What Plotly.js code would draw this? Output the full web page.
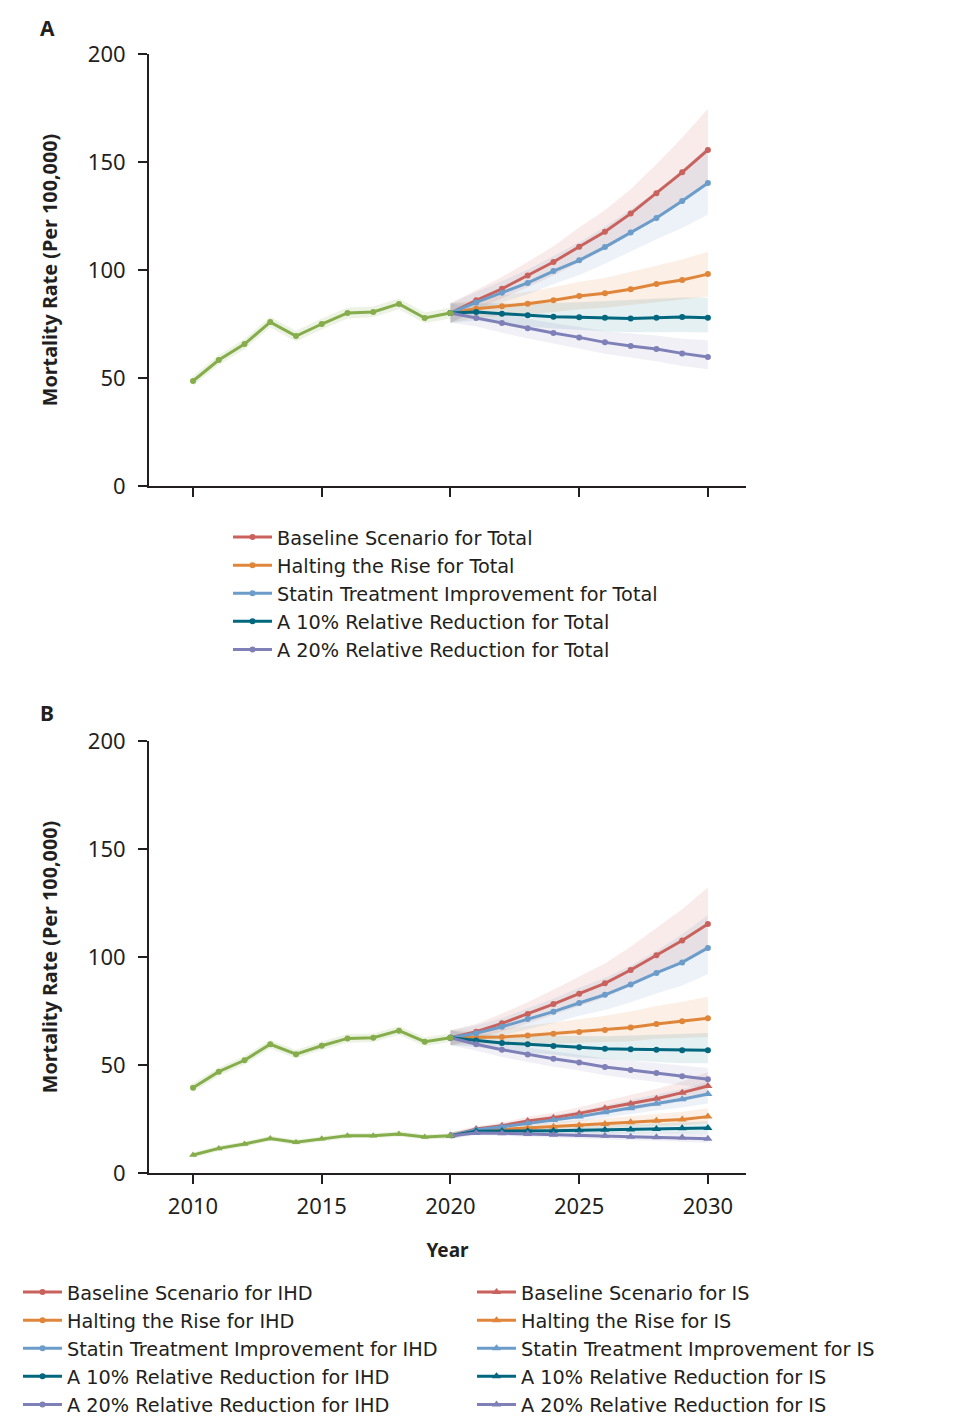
<!DOCTYPE html>
<html>
<head>
<meta charset="utf-8">
<script src="https://cdn.plot.ly/plotly-3.0.1.min.js"></script>
<style>html,body{margin:0;padding:0;background:#fff;}#chart{width:956px;height:1428px;}</style>
</head>
<body>
<div id="chart"></div>
<script>
// ---------- DATA ----------
const yearsHist = [2010, 2011, 2012, 2013, 2014, 2015, 2016, 2017, 2018, 2019, 2020];
const yearsProj = [2020, 2021, 2022, 2023, 2024, 2025, 2026, 2027, 2028, 2029, 2030];
const scenarioNames = ["Baseline Scenario", "Halting the Rise", "Statin Treatment Improvement", "A 10% Relative Reduction", "A 20% Relative Reduction"];
const yTicks = [0, 50, 100, 150, 200];
const xTicks = [2010, 2015, 2020, 2025, 2030];

// Panel A: Total
const totalHist = [48.6, 58.3, 65.7, 75.9, 69.4, 75.0, 80.1, 80.6, 84.3, 77.8, 80.1];
const totalHistLo = [46.4, 56.0, 63.3, 73.4, 66.9, 72.5, 77.6, 78.1, 81.8, 75.3, 77.6];
const totalHistHi = [50.8, 60.6, 68.1, 78.4, 71.9, 77.5, 82.6, 83.1, 86.8, 80.3, 82.6];
const totalBaseline = [80.1, 86.0, 91.3, 97.4, 103.7, 110.8, 117.7, 126.1, 135.5, 145.2, 155.6];
const totalBaselineLo = [75.6, 81.7, 86.7, 92.0, 97.5, 103.6, 109.5, 116.6, 124.7, 131.4, 139.3];
const totalBaselineHi = [84.6, 90.7, 96.8, 103.7, 111.0, 119.7, 127.7, 137.4, 149.0, 161.2, 174.7];
const totalHalting = [80.1, 82.1, 83.2, 84.4, 86.0, 88.0, 89.2, 91.1, 93.5, 95.4, 98.1];
const totalHaltingLo = [75.6, 78.0, 78.6, 79.3, 80.4, 81.8, 82.5, 83.8, 85.1, 86.3, 87.6];
const totalHaltingHi = [84.6, 86.2, 88.2, 89.9, 92.0, 94.6, 96.3, 99.2, 101.9, 104.9, 108.5];
const totalStatin = [80.1, 85.0, 89.5, 94.0, 99.5, 104.5, 110.6, 117.4, 124.1, 131.9, 140.3];
const totalStatinLo = [75.6, 80.8, 85.0, 88.8, 93.5, 97.7, 102.9, 108.6, 114.2, 119.4, 125.6];
const totalStatinHi = [84.6, 89.7, 94.9, 100.1, 106.5, 112.9, 120.0, 128.0, 136.5, 146.4, 157.1];
const totalRed10 = [80.1, 80.6, 79.8, 79.0, 78.4, 78.1, 77.9, 77.6, 77.9, 78.2, 77.9];
const totalRed10Lo = [75.6, 76.6, 75.0, 73.9, 72.9, 72.2, 71.7, 71.2, 71.3, 71.3, 71.1];
const totalRed10Hi = [84.6, 84.6, 84.6, 84.5, 84.7, 85.1, 85.7, 86.1, 86.9, 87.3, 87.2];
const totalRed20 = [80.1, 77.8, 75.5, 73.0, 70.8, 68.8, 66.5, 64.8, 63.4, 61.4, 59.7];
const totalRed20Lo = [75.6, 73.9, 71.0, 68.3, 65.8, 63.6, 61.2, 59.3, 57.7, 55.6, 54.0];
const totalRed20Hi = [84.6, 81.7, 79.7, 77.4, 75.4, 73.6, 71.8, 70.6, 69.7, 68.2, 67.5];

// Panel B: IHD
const ihdHist = [39.5, 46.9, 52.2, 59.6, 55.0, 58.9, 62.3, 62.6, 65.9, 60.8, 62.6];
const ihdHistLo = [37.5, 44.9, 50.2, 57.6, 53.0, 56.9, 60.3, 60.6, 63.9, 58.8, 60.6];
const ihdHistHi = [41.5, 48.9, 54.2, 61.6, 57.0, 60.9, 64.3, 64.6, 67.9, 62.8, 64.6];
const ihdBaseline = [62.6, 65.4, 69.3, 73.6, 78.2, 83.0, 87.8, 94.0, 100.8, 107.6, 115.3];
const ihdBaselineLo = [59.1, 62.1, 65.5, 69.2, 73.1, 77.2, 81.2, 86.5, 92.2, 97.9, 104.3];
const ihdBaselineHi = [66.1, 69.0, 73.8, 79.1, 84.8, 90.9, 97.0, 104.8, 113.4, 122.1, 132.3];
const ihdHalting = [62.6, 62.8, 63.0, 63.6, 64.5, 65.3, 66.2, 67.4, 69.0, 70.2, 71.6];
const ihdHaltingLo = [59.1, 59.7, 59.5, 59.8, 60.0, 60.4, 60.6, 61.0, 62.1, 62.5, 63.0];
const ihdHaltingHi = [66.1, 65.9, 66.8, 68.1, 69.7, 71.2, 72.8, 74.8, 77.3, 79.3, 81.6];
const ihdStatin = [62.6, 64.7, 67.7, 71.3, 74.7, 78.7, 82.5, 87.3, 92.6, 97.5, 104.2];
const ihdStatinLo = [59.1, 61.5, 63.6, 66.7, 69.5, 72.8, 75.5, 79.0, 83.1, 86.8, 92.0];
const ihdStatinHi = [66.1, 68.3, 71.8, 76.3, 80.7, 85.8, 90.3, 96.0, 102.8, 110.5, 119.5];
const ihdRed10 = [62.6, 61.4, 60.2, 59.6, 58.8, 58.2, 57.5, 57.3, 57.1, 56.8, 56.8];
const ihdRed10Lo = [59.1, 58.3, 56.6, 55.7, 54.7, 53.5, 52.6, 52.1, 51.4, 50.8, 50.8];
const ihdRed10Hi = [66.1, 64.5, 63.8, 63.8, 63.5, 63.4, 63.3, 63.6, 64.0, 64.2, 64.8];
const ihdRed20 = [62.6, 59.6, 57.1, 54.9, 52.9, 51.2, 49.1, 47.7, 46.3, 44.8, 43.4];
const ihdRed20Lo = [59.1, 56.6, 53.7, 51.3, 49.2, 47.4, 45.2, 43.6, 42.1, 40.5, 39.1];
const ihdRed20Hi = [66.1, 62.6, 60.2, 58.2, 56.3, 54.8, 53.0, 52.0, 50.9, 49.7, 48.6];

// Panel B: IS
const isHist = [8.3, 11.4, 13.4, 16.0, 14.2, 15.9, 17.3, 17.3, 18.1, 16.7, 17.2];
const isHistLo = [7.1, 10.2, 12.2, 14.8, 13.0, 14.7, 16.1, 16.1, 16.9, 15.5, 16.0];
const isHistHi = [9.5, 12.6, 14.6, 17.2, 15.4, 17.1, 18.5, 18.5, 19.3, 17.9, 18.4];
const isBaseline = [17.2, 20.4, 21.9, 24.1, 25.6, 27.6, 30.0, 32.1, 34.4, 37.2, 40.3];
const isBaselineLo = [15.7, 19.4, 20.6, 22.4, 23.7, 25.4, 27.5, 29.2, 31.0, 33.1, 35.5];
const isBaselineHi = [18.7, 21.6, 23.4, 26.0, 27.9, 30.4, 33.3, 36.0, 38.9, 42.4, 46.7];
const isHalting = [17.2, 19.6, 20.2, 20.8, 21.4, 22.1, 22.7, 23.5, 24.2, 24.8, 26.1];
const isHaltingLo = [15.7, 18.6, 19.0, 19.3, 19.8, 20.3, 20.7, 21.3, 21.8, 22.1, 23.0];
const isHaltingHi = [18.7, 20.8, 21.6, 22.5, 23.3, 24.3, 25.2, 26.3, 27.3, 28.3, 30.0];
const isStatin = [17.2, 20.0, 21.4, 23.0, 24.5, 26.1, 28.1, 30.0, 32.1, 34.1, 36.6];
const isStatinLo = [15.7, 19.0, 20.1, 21.4, 22.7, 24.0, 25.6, 27.2, 28.9, 30.3, 32.2];
const isStatinHi = [18.7, 21.2, 22.9, 24.8, 26.7, 28.7, 31.2, 33.6, 36.3, 38.9, 42.1];
const isRed10 = [17.2, 19.3, 19.4, 19.4, 19.6, 19.8, 20.0, 20.1, 20.4, 20.7, 20.8];
const isRed10Lo = [15.7, 18.3, 18.2, 18.0, 18.1, 18.2, 18.2, 18.2, 18.4, 18.4, 18.3];
const isRed10Hi = [18.7, 20.5, 20.8, 21.0, 21.4, 21.8, 22.2, 22.5, 23.1, 23.6, 23.9];
const isRed20 = [17.2, 18.5, 18.4, 18.1, 17.7, 17.6, 17.3, 16.8, 16.5, 16.4, 15.9];
const isRed20Lo = [15.7, 17.6, 17.3, 16.8, 16.4, 16.2, 15.7, 15.2, 14.9, 14.6, 14.0];
const isRed20Hi = [18.7, 19.6, 19.7, 19.5, 19.3, 19.4, 19.2, 18.8, 18.6, 18.7, 18.3];

// ---------- STYLE ----------
const colors = ["#C9615D", "#E0863A", "#6C9CC9", "#00677E", "#8080B8"];
const bandColors = ["rgba(201,97,93,0.13)", "rgba(224,134,58,0.13)", "rgba(108,156,201,0.13)", "rgba(0,103,126,0.10)", "rgba(128,128,184,0.12)"];
const green = "#86AD4B";
const greenBand = "rgba(134,173,75,0.15)";
const FONT = "Noto Sans, Open Sans, sans-serif";
const LEGFONT = "DejaVu Sans, Noto Sans, sans-serif";
const TXT = "#231f20";

const traces = [];
function band(x, lo, hi, color, xa, ya) {
  traces.push({
    x: x.concat(x.slice().reverse()),
    y: hi.concat(lo.slice().reverse()),
    type: "scatter", mode: "lines", fill: "toself", fillcolor: color,
    line: {width: 0, color: "rgba(0,0,0,0)"}, hoverinfo: "skip", showlegend: false,
    xaxis: xa, yaxis: ya
  });
}
function line(x, y, color, name, symbol, size, xa, ya, legend, show) {
  traces.push({
    x: x, y: y, type: "scatter", mode: "lines+markers", name: name,
    line: {color: color, width: 3}, marker: {color: color, size: size, symbol: symbol},
    xaxis: xa, yaxis: ya, legend: legend, showlegend: show
  });
}

// Panel A
const totSeries = [totalBaseline, totalHalting, totalStatin, totalRed10, totalRed20];
const totLo = [totalBaselineLo, totalHaltingLo, totalStatinLo, totalRed10Lo, totalRed20Lo];
const totHi = [totalBaselineHi, totalHaltingHi, totalStatinHi, totalRed10Hi, totalRed20Hi];
for (let i = 0; i < 5; i++) band(yearsProj, totLo[i], totHi[i], bandColors[i], "x", "y");
band(yearsHist, totalHistLo, totalHistHi, greenBand, "x", "y");
for (let i = 0; i < 5; i++) line(yearsProj, totSeries[i], colors[i], scenarioNames[i] + " for Total", "circle", 6, "x", "y", "legend", true);
line(yearsHist, totalHist, green, "Total", "circle", 6, "x", "y", "legend", false);

// Panel B
const ihdSeries = [ihdBaseline, ihdHalting, ihdStatin, ihdRed10, ihdRed20];
const ihdLo = [ihdBaselineLo, ihdHaltingLo, ihdStatinLo, ihdRed10Lo, ihdRed20Lo];
const ihdHi = [ihdBaselineHi, ihdHaltingHi, ihdStatinHi, ihdRed10Hi, ihdRed20Hi];
const isSeries = [isBaseline, isHalting, isStatin, isRed10, isRed20];
const isLo = [isBaselineLo, isHaltingLo, isStatinLo, isRed10Lo, isRed20Lo];
const isHi = [isBaselineHi, isHaltingHi, isStatinHi, isRed10Hi, isRed20Hi];
for (let i = 0; i < 5; i++) band(yearsProj, isLo[i], isHi[i], bandColors[i], "x2", "y2");
for (let i = 0; i < 5; i++) band(yearsProj, ihdLo[i], ihdHi[i], bandColors[i], "x2", "y2");
band(yearsHist, isHistLo, isHistHi, greenBand, "x2", "y2");
band(yearsHist, ihdHistLo, ihdHistHi, greenBand, "x2", "y2");
for (let i = 0; i < 5; i++) line(yearsProj, isSeries[i], colors[i], scenarioNames[i] + " for IS", "triangle-up", 8, "x2", "y2", "legend3", true);
for (let i = 0; i < 5; i++) line(yearsProj, ihdSeries[i], colors[i], scenarioNames[i] + " for IHD", "circle", 6, "x2", "y2", "legend2", true);
line(yearsHist, isHist, green, "IS", "triangle-up", 7, "x2", "y2", "legend2", false);
line(yearsHist, ihdHist, green, "IHD", "circle", 6, "x2", "y2", "legend2", false);

const W = 956, H = 1428;
const xDom = [149 / W, 746 / W];
function xaxis(extra) {
  return Object.assign({
    domain: xDom, range: [2008.29, 2031.48], showline: true, linecolor: "#231f20", linewidth: 2,
    ticks: "outside", ticklen: 9, tickwidth: 2, tickcolor: "#231f20", tickvals: xTicks,
    showgrid: false, zeroline: false, fixedrange: true,
    tickfont: {family: FONT, size: 22, color: TXT}
  }, extra);
}
function yaxis(dom, extra) {
  return Object.assign({
    domain: dom, range: [0, 200], showline: true, linecolor: "#231f20", linewidth: 2,
    ticks: "outside", ticklen: 9, tickwidth: 2, tickcolor: "#231f20", tickvals: yTicks,
    showgrid: false, zeroline: false, fixedrange: true, ticklabelstandoff: 8,
    tickfont: {family: FONT, size: 22, color: TXT},
    title: {text: "Mortality Rate (Per 100,000)", standoff: 25, font: {family: FONT, size: 19.8, weight: "bold", color: TXT}}
  }, extra);
}
const legFont = {family: LEGFONT, size: 19.3, color: TXT};
const layout = {
  width: W, height: H, margin: {l: 0, r: 0, t: 0, b: 0},
  paper_bgcolor: "#fff", plot_bgcolor: "#fff",
  xaxis: xaxis({anchor: "y", showticklabels: false}),
  yaxis: yaxis([1 - 486 / H, 1 - 54 / H], {anchor: "x"}),
  xaxis2: xaxis({anchor: "y2", ticklabelstandoff: 4,
    title: {text: "Year", standoff: 24, font: {family: FONT, size: 19, weight: "bold", color: TXT}}}),
  yaxis2: yaxis([1 - 1173 / H, 1 - 741 / H], {anchor: "x2"}),
  legend: {x: 228 / W, y: 1 - 518 / H, xanchor: "left", yanchor: "top", font: legFont, itemwidth: 39, bgcolor: "rgba(0,0,0,0)", tracegroupgap: 0},
  legend2: {x: 18 / W, y: 1 - 1273 / H, xanchor: "left", yanchor: "top", font: legFont, itemwidth: 39, bgcolor: "rgba(0,0,0,0)", tracegroupgap: 0},
  legend3: {x: 472 / W, y: 1 - 1273 / H, xanchor: "left", yanchor: "top", font: legFont, itemwidth: 39, bgcolor: "rgba(0,0,0,0)", tracegroupgap: 0},
  annotations: [
    {text: "<b>A</b>", x: 47 / W, y: 1 - 28 / H, xref: "paper", yref: "paper", xanchor: "center", yanchor: "middle", showarrow: false, font: {family: FONT, size: 21, color: TXT}},
    {text: "<b>B</b>", x: 47 / W, y: 1 - 713 / H, xref: "paper", yref: "paper", xanchor: "center", yanchor: "middle", showarrow: false, font: {family: FONT, size: 21, color: TXT}}
  ],
  showlegend: true
};
Plotly.newPlot("chart", traces, layout, {staticPlot: true, displayModeBar: false});
</script>
</body>
</html>
